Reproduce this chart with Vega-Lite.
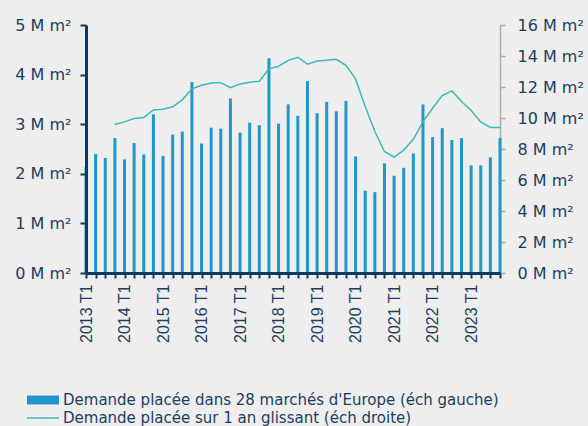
{
  "$schema": "https://vega.github.io/schema/vega-lite/v6.json",
  "width": 414,
  "height": 248,
  "autosize": {"type": "none"},
  "padding": {"left": 86, "top": 25, "right": 88, "bottom": 153},
  "background": "#eeeeee",
  "config": {
    "view": {"stroke": null},
    "font": "DejaVu Sans",
    "axis": {"labelFont": "DejaVu Sans", "labelFontSize": 16, "labelColor": "#1c3d5e", "grid": false, "title": null}
  },
  "data": {"values": [
    {"q": "2013 T1", "v": 2.14, "r": null},
    {"q": "2013 T2", "v": 2.40, "r": null},
    {"q": "2013 T3", "v": 2.32, "r": null},
    {"q": "2013 T4", "v": 2.72, "r": 9.58},
    {"q": "2014 T1", "v": 2.29, "r": 9.75},
    {"q": "2014 T2", "v": 2.62, "r": 9.97},
    {"q": "2014 T3", "v": 2.39, "r": 10.03},
    {"q": "2014 T4", "v": 3.20, "r": 10.52},
    {"q": "2015 T1", "v": 2.36, "r": 10.57},
    {"q": "2015 T2", "v": 2.79, "r": 10.72},
    {"q": "2015 T3", "v": 2.85, "r": 11.17},
    {"q": "2015 T4", "v": 3.85, "r": 11.88},
    {"q": "2016 T1", "v": 2.61, "r": 12.11},
    {"q": "2016 T2", "v": 2.93, "r": 12.26},
    {"q": "2016 T3", "v": 2.91, "r": 12.28},
    {"q": "2016 T4", "v": 3.52, "r": 11.96},
    {"q": "2017 T1", "v": 2.83, "r": 12.20},
    {"q": "2017 T2", "v": 3.03, "r": 12.31},
    {"q": "2017 T3", "v": 2.98, "r": 12.37},
    {"q": "2017 T4", "v": 4.33, "r": 13.17},
    {"q": "2018 T1", "v": 3.01, "r": 13.34},
    {"q": "2018 T2", "v": 3.40, "r": 13.72},
    {"q": "2018 T3", "v": 3.17, "r": 13.92},
    {"q": "2018 T4", "v": 3.87, "r": 13.47},
    {"q": "2019 T1", "v": 3.22, "r": 13.68},
    {"q": "2019 T2", "v": 3.45, "r": 13.72},
    {"q": "2019 T3", "v": 3.26, "r": 13.79},
    {"q": "2019 T4", "v": 3.47, "r": 13.40},
    {"q": "2020 T1", "v": 2.35, "r": 12.52},
    {"q": "2020 T2", "v": 1.66, "r": 10.74},
    {"q": "2020 T3", "v": 1.63, "r": 9.13},
    {"q": "2020 T4", "v": 2.21, "r": 7.84},
    {"q": "2021 T1", "v": 1.96, "r": 7.47},
    {"q": "2021 T2", "v": 2.12, "r": 7.93},
    {"q": "2021 T3", "v": 2.41, "r": 8.63},
    {"q": "2021 T4", "v": 3.40, "r": 9.77},
    {"q": "2022 T1", "v": 2.74, "r": 10.63},
    {"q": "2022 T2", "v": 2.92, "r": 11.45},
    {"q": "2022 T3", "v": 2.68, "r": 11.75},
    {"q": "2022 T4", "v": 2.72, "r": 11.06},
    {"q": "2023 T1", "v": 2.17, "r": 10.48},
    {"q": "2023 T2", "v": 2.17, "r": 9.75},
    {"q": "2023 T3", "v": 2.33, "r": 9.39},
    {"q": "2023 T4", "v": 2.72, "r": 9.39}
  ]},
  "encoding": {
    "x": {
      "field": "q", "type": "ordinal", "sort": null,
      "scale": {"type": "point", "padding": 0},
      "axis": {
        "labelAngle": 270, "labelOverlap": false, "labelFont": "Liberation Sans",
        "labelExpr": "slice(datum.label, -2) == 'T1' ? datum.label : ''",
        "domainColor": "#0f3a5f", "domainWidth": 3,
        "tickColor": "#0f3a5f", "tickWidth": 2, "tickSize": 5,
        "labelPadding": 6, "zindex": 1
      }
    }
  },
  "layer": [
    {
      "mark": {"type": "bar", "size": 3},
      "encoding": {
        "y": {
          "field": "v", "type": "quantitative",
          "scale": {"domain": [0, 5]},
          "axis": {
            "orient": "left", "values": [0, 1, 2, 3, 4, 5],
            "labelExpr": "datum.value + ' M m²'",
            "domainColor": "#0f3a5f", "domainWidth": 3,
            "tickColor": "#0f3a5f", "tickWidth": 2, "tickSize": 6,
            "labelPadding": 9, "zindex": 1
          }
        },
        "fill": {
          "datum": "Demande placée dans 28 marchés d'Europe (éch gauche)",
          "scale": {"range": ["#2196c8"]},
          "legend": {
            "orient": "none", "legendX": -60, "legendY": 358, "title": null,
            "symbolType": "M-1,-0.28H1V0.28H-1Z", "symbolSize": 1024,
            "labelFontSize": 15, "labelColor": "#1c3d5e", "labelFont": "DejaVu Sans", "labelOffset": 3, "labelLimit": 0
          }
        }
      }
    },
    {
      "mark": {"type": "line", "strokeWidth": 1.5},
      "encoding": {
        "y": {
          "field": "r", "type": "quantitative",
          "scale": {"domain": [0, 16]},
          "axis": {
            "orient": "right", "values": [0, 2, 4, 6, 8, 10, 12, 14, 16],
            "labelExpr": "datum.value + ' M m²'",
            "domainColor": "#a7abb0", "domainWidth": 1.5,
            "tickColor": "#a7abb0", "tickWidth": 1.5, "tickSize": 5,
            "labelPadding": 12
          }
        },
        "stroke": {
          "datum": "Demande placée sur 1 an glissant (éch droite)",
          "scale": {"range": ["#3db8b5"]},
          "legend": {
            "orient": "none", "legendX": -60, "legendY": 376, "title": null,
            "symbolType": "stroke", "symbolSize": 1024, "symbolStrokeWidth": 1.5, "symbolStrokeColor": "#3db8b5",
            "labelFontSize": 15, "labelColor": "#1c3d5e", "labelFont": "DejaVu Sans", "labelOffset": 3, "labelLimit": 0
          }
        }
      }
    }
  ],
  "resolve": {"scale": {"y": "independent", "fill": "independent", "stroke": "independent"}}
}
